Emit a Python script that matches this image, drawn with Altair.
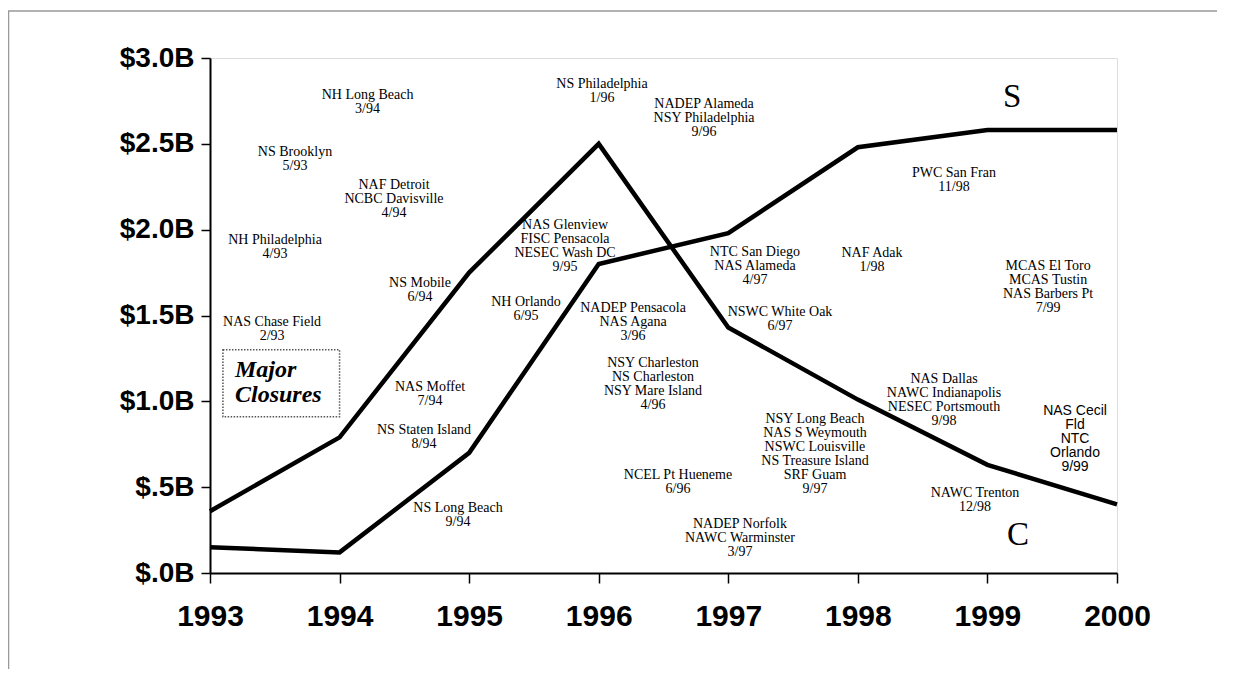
import altair as alt
import pandas as pd

# ---- series data ----
years = [1993, 1994, 1995, 1996, 1997, 1998, 1999, 2000]
c_values = [0.36, 0.79, 1.75, 2.50, 1.43, 1.01, 0.63, 0.40]
s_values = [0.15, 0.12, 0.70, 1.80, 1.98, 2.48, 2.58, 2.58]

# ---- axis ticks ----
y_tick_values = [0.0, 0.5, 1.0, 1.5, 2.0, 2.5, 3.0]
y_tick_labels = ["$.0B", "$.5B", "$1.0B", "$1.5B", "$2.0B", "$2.5B", "$3.0B"]

# ---- closure annotations (serif) ----
ann_texts = [
    "NH Long Beach\n3/94",
    "NS Brooklyn\n5/93",
    "NAF Detroit\nNCBC Davisville\n4/94",
    "NH Philadelphia\n4/93",
    "NAS Chase Field\n2/93",
    "NS Mobile\n6/94",
    "NAS Moffet\n7/94",
    "NS Staten Island\n8/94",
    "NS Long Beach\n9/94",
    "NS Philadelphia\n1/96",
    "NADEP Alameda\nNSY Philadelphia\n9/96",
    "NAS Glenview\nFISC Pensacola\nNESEC Wash DC\n9/95",
    "NH Orlando\n6/95",
    "NADEP Pensacola\nNAS Agana\n3/96",
    "NSY Charleston\nNS Charleston\nNSY Mare Island\n4/96",
    "NCEL Pt Hueneme\n6/96",
    "NADEP Norfolk\nNAWC Warminster\n3/97",
    "NTC San Diego\nNAS Alameda\n4/97",
    "NAF Adak\n1/98",
    "NSWC White Oak\n6/97",
    "NSY Long Beach\nNAS S Weymouth\nNSWC Louisville\nNS Treasure Island\nSRF Guam\n9/97",
    "PWC San Fran\n11/98",
    "MCAS El Toro\nMCAS Tustin\nNAS Barbers Pt\n7/99",
    "NAS Dallas\nNAWC Indianapolis\nNESEC Portsmouth\n9/98",
    "NAWC Trenton\n12/98",
]
ann_x = [1994.216, 1993.656, 1994.420, 1993.502, 1993.479, 1994.621, 1994.698,
         1994.652, 1994.914, 1996.025, 1996.813, 1995.740, 1995.439, 1996.265,
         1996.419, 1996.612, 1997.090, 1997.206, 1998.109, 1997.399, 1997.669,
         1998.742, 1999.468, 1998.665, 1998.904]
ann_y = [2.825, 2.493, 2.301, 1.981, 1.503, 1.730, 1.124, 0.874, 0.419, 2.889,
         2.773, 2.068, 1.619, 1.584, 1.264, 0.612, 0.326, 1.911, 1.905, 1.561,
         0.938, 2.371, 1.829, 1.171, 0.507]

# ---- sans-serif annotation ----
sans_texts = ["NAS Cecil\nFld\nNTC\nOrlando\n9/99"]
sans_x = [1999.676]
sans_y = [0.984]

# ---- series letters ----
letter_texts = ["S", "C"]
letter_x = [1999.19, 1999.236]
letter_y = [2.773, 0.221]

# ---- "Major Closures" box ----
box_text = ["Major\nClosures"]
box_text_x = [1993.193]
box_text_y = [1.252]
box_x = [1993.10]
box_x2 = [1994.00]
box_y = [0.91]
box_y2 = [1.30]

lines_df = pd.DataFrame({
    "x": years * 2,
    "y": c_values + s_values,
    "series": ["C"] * len(years) + ["S"] * len(years),
})
ann_df = pd.DataFrame({"x": ann_x, "y": ann_y, "text": ann_texts})
sans_df = pd.DataFrame({"x": sans_x, "y": sans_y, "text": sans_texts})
letter_df = pd.DataFrame({"x": letter_x, "y": letter_y, "text": letter_texts})
box_text_df = pd.DataFrame({"x": box_text_x, "y": box_text_y, "text": box_text})
box_df = pd.DataFrame({"x": box_x, "x2": box_x2, "y": box_y, "y2": box_y2})

label_expr = "''"
for v, lab in zip(reversed(y_tick_values), reversed(y_tick_labels)):
    label_expr = f"datum.value == {v} ? '{lab}' : ({label_expr})"

x_scale = alt.Scale(domain=[1993, 2000], nice=False, zero=False)
y_scale = alt.Scale(domain=[0, 3], nice=False, zero=True)

x_axis = alt.Axis(values=years, format="d", title=None, grid=False,
                  labelFont="Liberation Sans",
                  labelFontWeight="bold", labelFontSize=30, labelColor="black",
                  labelPadding=18, tickSize=10, tickColor="black", tickWidth=1.5,
                  domainColor="black", domainWidth=2, labelFlush=False)
y_axis = alt.Axis(values=y_tick_values, labelExpr=label_expr, title=None, grid=False,
                  labelFont="Liberation Sans", labelFontWeight="bold",
                  labelFontSize=28, labelColor="black", labelPadding=7,
                  tickSize=9, tickColor="black", tickWidth=1.5,
                  domainColor="black", domainWidth=2)

lines = alt.Chart(lines_df).mark_line(color="black", strokeWidth=4.5).encode(
    x=alt.X("x:Q", scale=x_scale, axis=x_axis),
    y=alt.Y("y:Q", scale=y_scale, axis=y_axis),
    detail="series:N",
)

ann = alt.Chart(ann_df).mark_text(
    font="Liberation Serif", fontSize=14, lineHeight=14, lineBreak="\n",
    baseline="top", align="center", color="black",
).encode(x=alt.X("x:Q", scale=x_scale), y=alt.Y("y:Q", scale=y_scale), text="text:N")

sans = alt.Chart(sans_df).mark_text(
    font="Liberation Sans", fontSize=14, lineHeight=14, lineBreak="\n",
    baseline="top", align="center", color="black",
).encode(x=alt.X("x:Q", scale=x_scale), y=alt.Y("y:Q", scale=y_scale), text="text:N")

letters = alt.Chart(letter_df).mark_text(
    font="Liberation Serif", fontSize=33, baseline="middle", align="center", color="black",
).encode(x=alt.X("x:Q", scale=x_scale), y=alt.Y("y:Q", scale=y_scale), text="text:N")

box = alt.Chart(box_df).mark_rect(
    fillOpacity=0, stroke="#555", strokeWidth=1.5, strokeDash=[1.5, 1.5],
).encode(x=alt.X("x:Q", scale=x_scale), x2="x2:Q",
         y=alt.Y("y:Q", scale=y_scale), y2="y2:Q")

box_label = alt.Chart(box_text_df).mark_text(
    font="Liberation Serif", fontSize=24, fontWeight="bold", fontStyle="italic",
    lineHeight=25, lineBreak="\n", baseline="top", align="left", color="black",
).encode(x=alt.X("x:Q", scale=x_scale), y=alt.Y("y:Q", scale=y_scale), text="text:N")

frame_src = pd.DataFrame({"k": [0]})
frame_top = alt.Chart(frame_src).mark_rule(color="#999", strokeWidth=1.5).encode(
    x=alt.value(-202), x2=alt.value(1025), y=alt.value(-47))
frame_left = alt.Chart(frame_src).mark_rule(color="#999", strokeWidth=1.5).encode(
    x=alt.value(-201.5), y=alt.value(-47), y2=alt.value(619))

chart = alt.layer(
    frame_top, frame_left, box, lines, ann, sans, letters, box_label
).properties(
    width=907, height=515,
    autosize=alt.AutoSizeParams(type="none"),
    padding={"left": 202, "top": 50, "right": 100, "bottom": 96},
).configure_view(stroke="black", strokeWidth=2).configure(background="white")

chart.save("out.html", embed_options={"renderer": "svg", "actions": False})
